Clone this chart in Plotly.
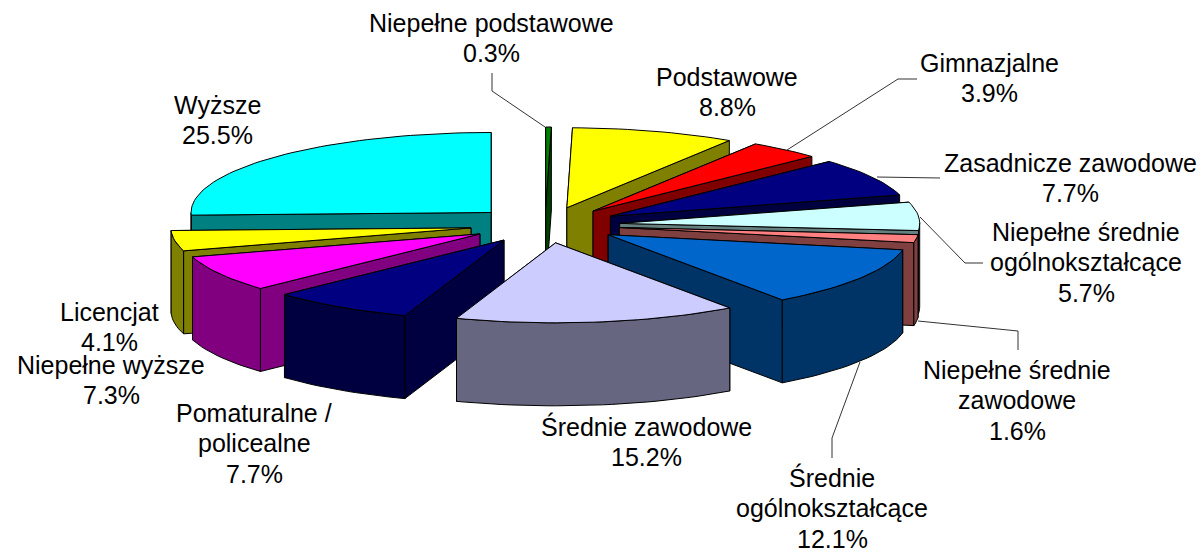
import math
import plotly.graph_objects as go

categories = ["Niepełne podstawowe", "Podstawowe", "Gimnazjalne", "Zasadnicze zawodowe",
              "Niepełne średnie ogólnokształcące", "Niepełne średnie zawodowe",
              "Średnie ogólnokształcące", "Średnie zawodowe", "Pomaturalne / policealne",
              "Niepełne wyższe", "Licencjat", "Wyższe"]
values = [0.3, 8.8, 3.9, 7.7, 5.7, 1.6, 12.1, 15.2, 7.7, 7.3, 4.1, 25.5]
top_colors = ["#008000", "#FFFF00", "#FF0000", "#000080", "#CCFFFF", "#FF8080",
              "#0066CC", "#CCCCFF", "#000080", "#FF00FF", "#FFFF00", "#00FFFF"]
side_colors = ["#004000", "#808000", "#800000", "#000040", "#668080", "#804040",
               "#003366", "#666680", "#000040", "#800080", "#808000", "#008080"]
label_lines = [["Niepełne podstawowe", "0.3%"], ["Podstawowe", "8.8%"], ["Gimnazjalne", "3.9%"],
               ["Zasadnicze zawodowe", "7.7%"], ["Niepełne średnie", "ogólnokształcące", "5.7%"],
               ["Niepełne średnie", "zawodowe", "1.6%"], ["Średnie", "ogólnokształcące", "12.1%"],
               ["Średnie zawodowe", "15.2%"], ["Pomaturalne /", "policealne", "7.7%"],
               ["Niepełne wyższe", "7.3%"], ["Licencjat", "4.1%"], ["Wyższe", "25.5%"]]
label_x = [491, 727, 989, 1070, 1086, 1017, 832, 646, 254, 111, 109, 217]
label_y = [38, 92, 78, 178, 262, 400, 508, 442, 443, 380, 327, 120]

leader_x = [[492, 492, 545], [917, 898, 787], [940, 897, 877], [983, 965, 920],
            [1018, 1018, 918], [832, 832, 860]]
leader_y = [[73, 91, 127], [79, 79, 150], [178, 177, 177], [263, 263, 217],
            [350, 331, 321], [458, 438, 362]]

CX, CY = 545, 225          # pie centre in the page
RX, RY = 300, 80           # top-face ellipse radii
EX, EY = 75, 18            # explosion offset radii
DEPTH = 83
LINE_STEP = 30.5

fig = go.Figure()


def poly(xs, ys, color):
    fig.add_trace(go.Scatter(x=xs + xs[:1], y=ys + ys[:1], mode="lines", fill="toself",
                             fillcolor=color, line=dict(color="#000000", width=1),
                             hoverinfo="skip", showlegend=False))


total = sum(values)
slices = []
acc = 0.0
for i, v in enumerate(values):
    a0 = acc / total * 2 * math.pi
    acc += v
    a1 = acc / total * 2 * math.pi
    slices.append((i, a0, a1))

# painter's order: back slices first
for i, a0, a1 in sorted(slices, key=lambda s: -math.cos((s[1] + s[2]) / 2)):
    mid = (a0 + a1) / 2
    ax = CX + EX * math.sin(mid)
    ay = CY - EY * math.cos(mid)
    n = max(3, int((a1 - a0) / 0.03))
    ang = [a0 + (a1 - a0) * k / n for k in range(n + 1)]
    px = [ax + RX * math.sin(t) for t in ang]
    py = [ay - RY * math.cos(t) for t in ang]
    # radial walls, the one further back first
    for t in sorted((a0, a1), key=lambda t: -math.cos(t)):
        ox, oy = ax + RX * math.sin(t), ay - RY * math.cos(t)
        poly([ax, ox, ox, ax], [ay, oy, oy + DEPTH, ay + DEPTH], side_colors[i])
    # outer wall, only the part facing the viewer
    fx = [x for x, t in zip(px, ang) if math.cos(t) <= 0.02]
    fy = [y for y, t in zip(py, ang) if math.cos(t) <= 0.02]
    if len(fx) > 1:
        poly(fx + [x for x in reversed(fx)], fy + [y + DEPTH for y in reversed(fy)], side_colors[i])
    # top face
    poly([ax] + px, [ay] + py, top_colors[i])

for xs, ys in zip(leader_x, leader_y):
    fig.add_trace(go.Scatter(x=xs, y=ys, mode="lines", line=dict(color="#333333", width=1),
                             hoverinfo="skip", showlegend=False))

for lines, x, y in zip(label_lines, label_x, label_y):
    for k, line in enumerate(lines):
        fig.add_annotation(x=x, y=y + (k - (len(lines) - 1) / 2) * LINE_STEP, text=line,
                           showarrow=False, xanchor="center", yanchor="middle", align="center",
                           font=dict(family="Liberation Sans", size=25, color="#000000"))

fig.update_xaxes(range=[0, 1204], visible=False)
fig.update_yaxes(range=[552, 0], visible=False)
fig.update_layout(width=1204, height=552, margin=dict(l=0, r=0, t=0, b=0),
                  paper_bgcolor="#FFFFFF", plot_bgcolor="#FFFFFF")
fig.write_html("out.html", config={"displayModeBar": False},
               post_script="document.body.style.margin='0';")
